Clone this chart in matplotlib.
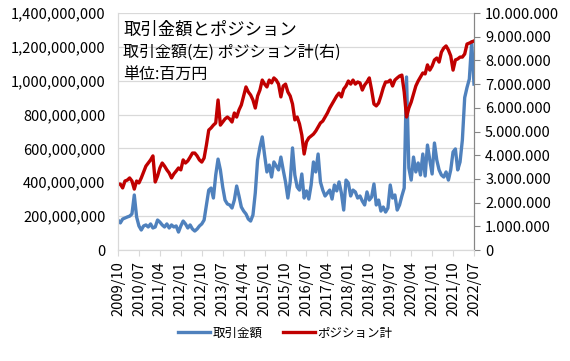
import matplotlib
matplotlib.use("Agg")
import matplotlib.pyplot as plt
import numpy as np
import pandas as pd
from matplotlib.ticker import FuncFormatter, MultipleLocator

plt.rcParams["font.family"] = ["Noto Sans CJK JP", "DejaVu Sans"]

# monthly data 2009/10 - 2022/07
months = pd.period_range("2009-10", "2022-07", freq="M").strftime("%Y/%m").tolist()

# 取引金額 (left axis, millions)
trade_amount = [
    177, 160, 183, 189, 195, 200, 213, 325, 195, 142,
    118, 142, 148, 136, 154, 130, 136, 177, 165, 148,
    136, 154, 130, 148, 136, 142, 106, 142, 171, 154,
    130, 148, 124, 112, 124, 142, 154, 177, 266, 354,
    366, 307, 443, 537, 473, 372, 295, 272, 266, 248,
    295, 378, 319, 254, 230, 213, 183, 171, 207, 337,
    532, 608, 668, 561, 461, 502, 431, 520, 496, 473,
    549, 473, 402, 307, 402, 603, 443, 372, 354, 449,
    307, 349, 301, 384, 520, 461, 567, 402, 354, 319,
    337, 354, 301, 384, 349, 402, 337, 236, 413, 396,
    319, 354, 343, 307, 319, 289, 266, 343, 295, 313,
    390, 266, 295, 230, 254, 224, 248, 384, 307, 325,
    236, 266, 319, 366, 1022, 484, 413, 549, 461, 514,
    443, 567, 437, 620, 532, 449, 632, 532, 473, 443,
    431, 461, 413, 473, 579, 597, 473, 520, 650, 900,
    960, 1010, 1230, 980,
]

# ポジション計 (right axis, millions)
position_total = [
    2.78, 2.78, 2.62, 2.91, 2.95, 3.04, 2.91, 2.57, 2.91, 2.83,
    3.04, 3.29, 3.54, 3.67, 3.80, 3.97, 2.87, 3.12, 3.46, 3.67,
    3.54, 3.38, 3.25, 3.04, 3.21, 3.33, 3.46, 3.38, 3.80, 3.67,
    3.76, 3.92, 4.09, 4.09, 3.97, 3.80, 3.71, 3.88, 4.43, 5.06,
    5.15, 5.27, 5.36, 6.33, 5.27, 5.40, 5.53, 5.61, 5.53, 5.40,
    5.78, 5.61, 5.91, 6.12, 6.50, 6.88, 6.67, 6.54, 6.33, 5.99,
    6.50, 6.75, 7.17, 7.00, 6.88, 7.17, 7.05, 7.26, 7.17, 7.00,
    6.46, 6.92, 7.00, 6.67, 6.50, 6.16, 5.49, 5.61, 5.32, 4.85,
    4.05, 4.56, 4.73, 4.81, 4.89, 5.02, 5.19, 5.36, 5.44, 5.61,
    5.78, 5.99, 6.16, 6.33, 6.50, 6.62, 6.46, 6.79, 6.92, 7.13,
    7.00, 7.17, 7.00, 7.09, 7.05, 6.75, 6.96, 7.09, 7.26, 6.75,
    6.16, 6.08, 6.20, 6.50, 6.84, 7.09, 7.09, 7.17, 6.92, 7.17,
    7.26, 7.34, 7.38, 6.67, 5.61, 5.99, 6.24, 6.58, 6.92, 7.13,
    7.30, 7.47, 7.43, 7.81, 7.59, 7.76, 8.02, 8.10, 7.93, 8.35,
    8.52, 8.61, 8.44, 8.19, 7.59, 8.02, 8.06, 8.14, 8.14, 8.27,
    8.69, 8.73, 8.78, 8.82,
]

tick_labels = months[::9]

x = np.arange(len(months))
left_vals = np.array(trade_amount) * 1e6
right_vals = np.array(position_total) * 1e6

fig = plt.figure(figsize=(5.7, 3.61), dpi=100)
ax = fig.add_axes([118 / 570, 1 - 250 / 361, (474 - 118) / 570, (250 - 13) / 361])
ax2 = ax.twinx()

blue = "#4F81BD"
red = "#C00000"
grid_c = "#D9D9D9"
axis_c = "#868686"

l1, = ax.plot(x, left_vals, color=blue, lw=2.4, label="取引金額", solid_joinstyle="round")
l2, = ax2.plot(x, right_vals, color=red, lw=2.4, label="ポジション計", solid_joinstyle="round")

ax.set_xlim(0, len(months) - 1)
ax.set_ylim(0, 1.4e9)
ax2.set_ylim(0, 1e7)

ax.yaxis.set_major_locator(MultipleLocator(2e8))
ax2.yaxis.set_major_locator(MultipleLocator(1e6))
ax.yaxis.set_major_formatter(FuncFormatter(lambda v, p: f"{v:,.0f}"))
ax2.yaxis.set_major_formatter(FuncFormatter(lambda v, p: f"{v:,.0f}".replace(",", ".")))

ax.set_xticks(x[::9])
ax.set_xticklabels(tick_labels, rotation=90, fontsize=10.5)

ax.grid(axis="y", color=grid_c, lw=0.9)
ax.set_axisbelow(True)

for a in (ax, ax2):
    a.spines["top"].set_visible(False)
    a.spines["left"].set_color(grid_c)
    a.spines["bottom"].set_color(grid_c)
    a.spines["right"].set_color(axis_c)

ax.tick_params(axis="y", length=0, pad=9, labelsize=10.5)
ax.tick_params(axis="x", length=4, color=grid_c, pad=4)
ax2.tick_params(axis="y", length=4, color=axis_c, pad=4, labelsize=10.5)

# title block inside the plot
fig.text(123 / 570, 1 - 30 / 361, "取引金額とポジション", fontsize=12.5, va="center", ha="left")
fig.text(123 / 570, 1 - 52 / 361, "取引金額(左) ポジション計(右)", fontsize=11.5, va="center", ha="left")
fig.text(123 / 570, 1 - 75 / 361, "単位:百万円", fontsize=11.5, va="center", ha="left")

fig.legend(handles=[l1, l2], loc="center", bbox_to_anchor=(0.5, 1 - 333 / 361),
           ncol=2, frameon=False, fontsize=9, handlelength=2.6,
           columnspacing=1.6, handletextpad=0.2)

fig.savefig("out.png", dpi=100)
